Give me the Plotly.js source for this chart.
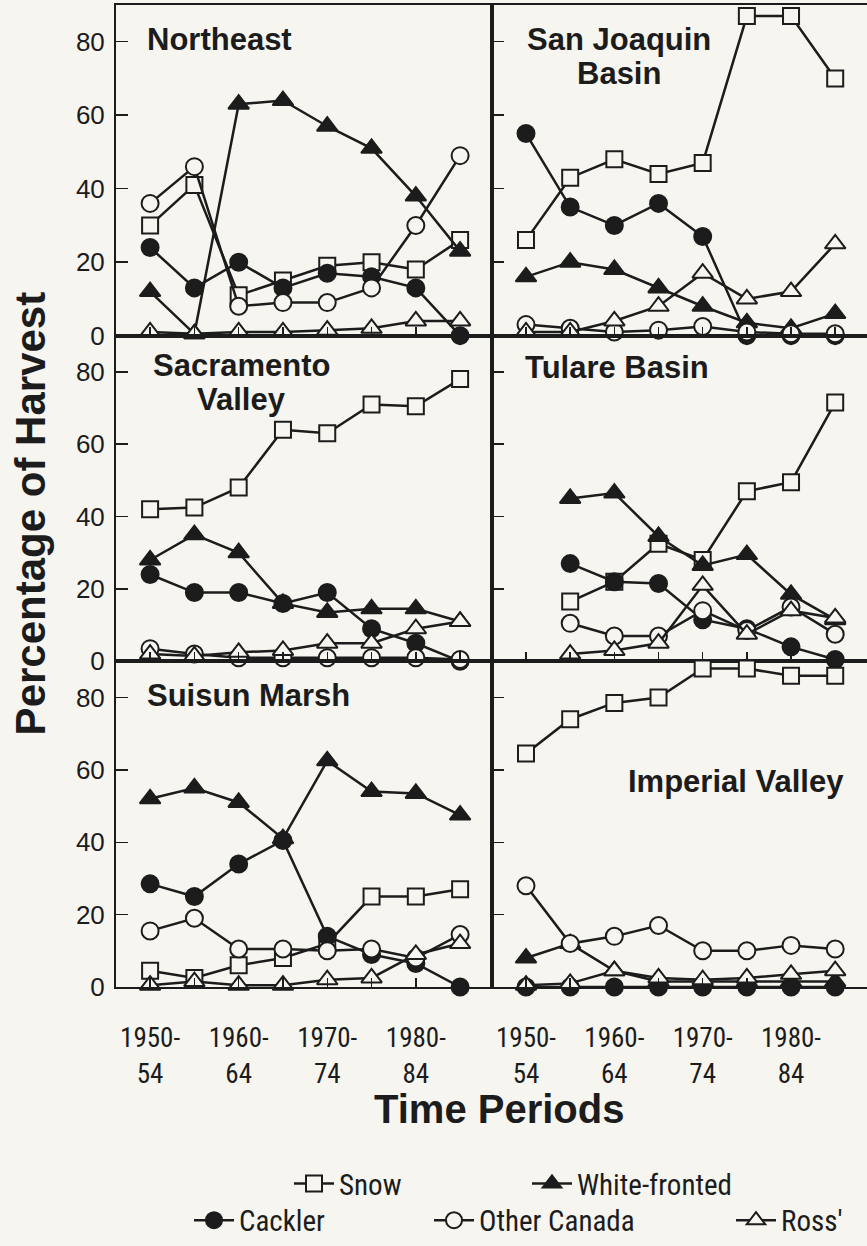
<!DOCTYPE html>
<html>
<head>
<meta charset="utf-8">
<script src="https://cdn.plot.ly/plotly-3.0.1.min.js"></script>
<style>html,body{margin:0;padding:0;background:#f6f5f0;}#chart{width:867px;height:1246px;}</style>
</head>
<body>
<div id="chart"></div>
<script>
const periods = ['1950-54','1955-59','1960-64','1965-69','1970-74','1975-79','1980-84','1985-89'];
const periodTickText = ['1950-<br>54','','1960-<br>64','','1970-<br>74','','1980-<br>84',''];
const yTickVals = [0, 20, 40, 60, 80];
const regions = ['Northeast','San Joaquin Basin','Sacramento Valley','Tulare Basin','Suisun Marsh','Imperial Valley'];
const speciesNames = ['Snow','White-fronted','Cackler','Other Canada',"Ross'"];

// values per region, in the order of `regions`
const snow = [
  [30, 41, 11, 15, 19, 20, 18, 26],
  [26, 43, 48, 44, 47, 87, 87, 70],
  [42, 42.5, 48, 64, 63, 71, 70.5, 78],
  [null, 16.5, 22, 32.5, 28, 47, 49.5, 71.5],
  [4.5, 2.5, 6, 8, 12, 25, 25, 27],
  [64.5, 74, 78.5, 80, 88, 88, 86, 86]
];
const whiteFronted = [
  [12, 0.5, 63, 64, 57, 51, 38, 23],
  [16, 20, 18, 13, 8, 3.5, 2, 6],
  [28, 35, 30, 16, 13.5, 14.5, 14.5, 11],
  [null, 45, 46.5, 34.5, 26.5, 29.5, 18.5, 11.5],
  [52, 55, 51, 41, 62.5, 54, 53.5, 47.5],
  [8, 12, 4.5, 1.5, 1.5, 1.5, 1.5, 1.5]
];
const cackler = [
  [24, 13, 20, 13, 17, 16, 13, 0],
  [55, 35, 30, 36, 27, 0, 0, 0],
  [24, 19, 19, 16, 19, 9, 5, 0],
  [null, 27, 22, 21.5, 11.5, 9, 4, 0.5],
  [28.5, 25, 34, 40.5, 14, 9, 6.5, 0],
  [0, 0, 0, 0, 0, 0, 0, 0]
];
const otherCanada = [
  [36, 46, 8, 9, 9, 13, 30, 49],
  [3, 2, 1, 1.5, 2.5, 1, 0.5, 0.5],
  [3.5, 2, 1, 1, 1, 1, 1, 0.5],
  [null, 10.5, 7, 7, 14, 8.5, 15, 7.5],
  [15.5, 19, 10.5, 10.5, 10, 10.5, 8, 14.5],
  [28, 12, 14, 17, 10, 10, 11.5, 10.5]
];
const ross = [
  [1, 0.5, 1, 1, 1.5, 2, 4, 4],
  [1, 1, 4, 8, 17, 10, 12, 25],
  [2, 1.5, 2.5, 3, 5, 5, 9, 11],
  [null, 2, 3, 5, 21, 7.5, 14, 12],
  [0.5, 1.5, 0.5, 0.5, 2, 2.5, 9, 12],
  [0.5, 1, 4.5, 2.5, 2, 2.5, 3.5, 4.5]
];

const BG = '#f6f5f0';
const INK = '#1c1c1c';
const NARROW = '"Liberation Sans Narrow", "Arial Narrow", "Roboto Condensed", "Liberation Sans", sans-serif';
const SANS = '"Liberation Sans", Arial, Helvetica, sans-serif';

const speciesData = [snow, whiteFronted, cackler, otherCanada, ross];
const speciesStyle = [
  {symbol: 'square', size: 16, fill: BG},
  {symbol: 'triangle-up', size: 18, fill: INK},
  {symbol: 'circle', size: 17, fill: INK},
  {symbol: 'circle', size: 17, fill: BG},
  {symbol: 'triangle-up', size: 18, fill: BG}
];
const legendIds = ['legend', 'legend2', 'legend3', 'legend4', 'legend5'];

const traces = [];
regions.forEach((reg, r) => {
  const ax = r === 0 ? '' : String(r + 1);
  speciesData.forEach((arr, s) => {
    const st = speciesStyle[s];
    traces.push({
      type: 'scatter', mode: 'lines+markers',
      x: periods, y: arr[r],
      xaxis: 'x' + ax, yaxis: 'y' + ax,
      name: speciesNames[s],
      legend: legendIds[s],
      showlegend: r === 0,
      cliponaxis: false,
      connectgaps: false,
      line: {color: INK, width: 2.5},
      marker: {symbol: st.symbol, size: st.size, color: st.fill, line: {color: INK, width: 2}},
      hoverinfo: 'skip'
    });
  });
});

const W = 867, H = 1246;
const mL = 116, mR = 0, mT = 5, mB = 252;
const pw = W - mL - mR, ph = H - mT - mB;
const px = v => (v - mL) / pw;          // pixel -> paper x
const py = v => (H - mB - v) / ph;      // pixel -> paper y
const colSplit = px(492);
const rowSplits = [py(338), py(666)];
const colDomains = [[0, colSplit], [colSplit, 1]];
const rowDomains = [[rowSplits[0], 1], [rowSplits[1], rowSplits[0]], [0, rowSplits[1]]];

const layout = {
  width: W, height: H,
  margin: {l: mL, r: mR, t: mT, b: mB},
  paper_bgcolor: BG, plot_bgcolor: BG,
  font: {family: SANS, color: INK},
  annotations: []
};

// legend placement: [left pixel, centre y pixel]
const legendPos = [[289, 1192], [527, 1192], [189, 1229], [429, 1229], [731, 1229]];
legendIds.forEach((id, i) => {
  layout[id] = {
    orientation: 'h', x: px(legendPos[i][0]), xanchor: 'left',
    y: py(legendPos[i][1]), yanchor: 'middle',
    font: {family: NARROW, size: 29, color: INK}, bgcolor: 'rgba(0,0,0,0)',
    itemwidth: 40
  };
});

regions.forEach((reg, r) => {
  const ax = r === 0 ? '' : String(r + 1);
  const col = r % 2, row = Math.floor(r / 2);
  layout['xaxis' + ax] = {
    type: 'category', categoryarray: periods, categoryorder: 'array',
    domain: colDomains[col], anchor: 'y' + ax,
    range: [-0.77, 7.72],
    tickmode: 'array', tickvals: periods, ticktext: periodTickText,
    showticklabels: row === 2,
    ticks: 'inside', ticklen: 9, tickwidth: 1.5, tickcolor: INK,
    ticklabelstandoff: 26,
    tickfont: {family: NARROW, size: 27, color: INK},
    showline: true, linecolor: INK, linewidth: 2, mirror: true,
    showgrid: false, zeroline: false, fixedrange: true
  };
  layout['yaxis' + ax] = {
    domain: rowDomains[row], anchor: 'x' + ax,
    range: [0, 90],
    tickmode: 'array', tickvals: yTickVals,
    showticklabels: col === 0,
    ticks: 'inside', ticklen: 12, tickwidth: 1.5, tickcolor: INK,
    ticklabelstandoff: 4,
    tickfont: {family: SANS, size: 26, color: INK},
    showline: true, linecolor: INK, linewidth: 2, mirror: true,
    showgrid: false, zeroline: false, fixedrange: true
  };
});

const titleFont = {family: SANS, size: 31, color: INK};
function addText(text, xPix, yPix, anchor) {
  layout.annotations.push({
    xref: 'paper', yref: 'paper', x: px(xPix), y: py(yPix),
    xanchor: anchor, yanchor: 'middle', showarrow: false,
    text: '<b>' + text + '</b>', font: titleFont
  });
}
addText('Northeast', 145, 40, 'left');
addText('San Joaquin', 619, 40, 'center');
addText('Basin', 619, 74, 'center');
addText('Sacramento', 241, 368, 'center');
addText('Valley', 241, 402, 'center');
addText('Tulare Basin', 523, 370, 'left');
addText('Suisun Marsh', 145, 700, 'left');
addText('Imperial Valley', 626, 787, 'left');

layout.annotations.push({
  xref: 'paper', yref: 'paper', x: px(499), y: py(1117),
  xanchor: 'center', yanchor: 'middle', showarrow: false,
  text: '<b>Time Periods</b>', font: {family: SANS, size: 40, color: INK}
});
layout.annotations.push({
  xref: 'paper', yref: 'paper', x: px(30), y: py(517),
  xanchor: 'center', yanchor: 'middle', showarrow: false, textangle: -90,
  text: '<b>Percentage of Harvest</b>', font: {family: SANS, size: 42, color: INK}
});

Plotly.newPlot('chart', traces, layout, {staticPlot: true, displayModeBar: false});
</script>
</body>
</html>
